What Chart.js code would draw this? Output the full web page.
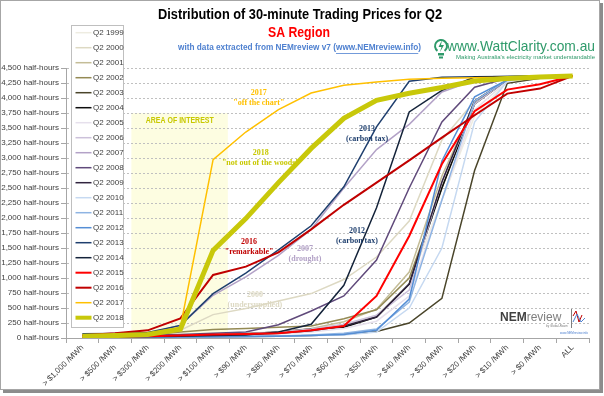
<!DOCTYPE html>
<html>
<head>
<meta charset="utf-8">
<script src="https://cdn.jsdelivr.net/npm/chart.js@4.4.1/dist/chart.umd.min.js"></script>
<style>
  html, body { margin: 0; padding: 0; background: #fff; }
</style>
</head>
<body>
<canvas id="chart" width="604" height="396"></canvas>
<script>
// Distribution of 30-minute trading prices, SA region, Q2 of each year

const priceBands = ['> $1,000 /MWh', '> $500 /MWh', '> $300 /MWh', '> $200 /MWh', '> $100 /MWh',
  '> $90 /MWh', '> $80 /MWh', '> $70 /MWh', '> $60 /MWh', '> $50 /MWh', '> $40 /MWh',
  '> $30 /MWh', '> $20 /MWh', '> $10 /MWh', '> $0 /MWh', 'ALL'];

const yTicks = [0, 250, 500, 750, 1000, 1250, 1500, 1750, 2000, 2250, 2500, 2750,
  3000, 3250, 3500, 3750, 4000, 4250, 4500];

// half-hours above each price band
const q2y1999 = [5, 10, 15, 25, 60, 80, 110, 150, 220, 380, 900, 2300, 3700, 4280, 4355, 4368];
const q2y2000 = [15, 20, 40, 130, 390, 490, 615, 740, 975, 1350, 1950, 3300, 3950, 4300, 4360, 4368];
const q2y2001 = [5, 8, 12, 20, 45, 70, 100, 160, 270, 480, 1100, 2700, 3900, 4300, 4360, 4368];
const q2y2002 = [20, 30, 50, 100, 140, 160, 180, 200, 320, 470, 1000, 2500, 3950, 4300, 4360, 4368];
const q2y2003 = [5, 8, 10, 15, 20, 25, 30, 40, 60, 110, 250, 660, 2790, 4245, 4330, 4368];
const q2y2004 = [10, 15, 20, 30, 50, 70, 100, 150, 180, 350, 900, 2500, 3900, 4300, 4360, 4368];
const q2y2005 = [5, 8, 10, 15, 30, 45, 65, 100, 160, 280, 700, 2300, 3800, 4290, 4360, 4368];
const q2y2006 = [5, 10, 15, 25, 50, 70, 100, 150, 230, 380, 800, 2600, 3900, 4300, 4360, 4368];
const q2y2007 = [40, 50, 70, 212, 712, 1017, 1378, 1810, 2500, 3140, 3560, 4100, 4295, 4340, 4360, 4368];
const q2y2008 = [30, 35, 45, 60, 80, 100, 220, 450, 700, 1300, 2500, 3600, 4180, 4330, 4360, 4368];
const q2y2009 = [10, 15, 20, 30, 45, 60, 80, 120, 200, 350, 900, 2600, 3950, 4300, 4360, 4368];
const q2y2010 = [5, 8, 10, 12, 20, 25, 30, 40, 50, 100, 500, 1500, 3600, 4280, 4355, 4368];
const q2y2011 = [5, 8, 10, 15, 20, 25, 35, 50, 80, 150, 600, 2300, 3950, 4300, 4360, 4368];
const q2y2012 = [5, 8, 10, 15, 20, 25, 30, 40, 60, 130, 650, 2950, 4020, 4300, 4360, 4368];
const q2y2013 = [70, 75, 90, 210, 740, 1080, 1470, 1870, 2520, 3520, 4280, 4345, 4355, 4360, 4365, 4368];
const q2y2014 = [20, 22, 25, 30, 40, 50, 100, 228, 878, 2170, 3767, 4128, 4350, 4360, 4365, 4368];
const q2y2015 = [20, 25, 30, 40, 60, 67, 78, 128, 200, 700, 1700, 2900, 3780, 4140, 4230, 4368];
const q2y2016 = [45, 78, 128, 328, 1050, 1190, 1428, 1810, 2220, 2590, 2960, 3340, 3712, 4073, 4157, 4368];
const q2y2017 = [20, 30, 50, 180, 2973, 3433, 3807, 4083, 4212, 4267, 4312, 4328, 4337, 4345, 4355, 4368];
const q2y2018 = [30, 40, 60, 145, 1460, 1990, 2590, 3160, 3660, 3960, 4080, 4175, 4283, 4323, 4350, 4368];

const seriesNames = ['Q2 1999', 'Q2 2000', 'Q2 2001', 'Q2 2002', 'Q2 2003', 'Q2 2004', 'Q2 2005',
  'Q2 2006', 'Q2 2007', 'Q2 2008', 'Q2 2009', 'Q2 2010', 'Q2 2011', 'Q2 2012', 'Q2 2013',
  'Q2 2014', 'Q2 2015', 'Q2 2016', 'Q2 2017', 'Q2 2018'];

const seriesData = [q2y1999, q2y2000, q2y2001, q2y2002, q2y2003, q2y2004, q2y2005, q2y2006,
  q2y2007, q2y2008, q2y2009, q2y2010, q2y2011, q2y2012, q2y2013, q2y2014, q2y2015, q2y2016,
  q2y2017, q2y2018];

// line colours / widths
const seriesColors = ['#eeece1', '#ddd9c3', '#c4bd97', '#948a54', '#4a452a', '#0d0d0d', '#e6e0ec',
  '#ccc1da', '#b3a2c7', '#604a7b', '#31243f', '#c6d9f1', '#8eb4e3', '#558ed5', '#1f3f6e',
  '#14233a', '#ff0000', '#c00000', '#ffc000', '#c8c80a'];
const seriesWidths = [1.5, 1.5, 1.5, 1.5, 1.5, 1.5, 1.5, 1.5, 1.5, 1.5, 1.5, 1.5, 1.5, 1.5, 1.5,
  1.5, 2, 2, 1.5, 5];

// notes written on the plot: [lines, colour, category index, value]
const notes = [
  [['2017', '"off the chart"'], '#ffc000', 5.4, 4080],
  [['2018', '"not out of the woods"'], '#c8c800', 5.46, 3078],
  [['2013', '(carbon tax)'], '#1f3f6e', 8.71, 3478],
  [['2012', '(carbon tax)'], '#1f3f6e', 8.4, 1778],
  [['2016', '"remarkable"'], '#c00000', 5.1, 1595],
  [['2007', '(drought)'], '#b3a2c7', 6.81, 1478],
  [['2000', '(undersupplied)'], '#ddd9c3', 5.28, 712]
];
const interest = { from: 1.5, to: 4.45, top: 3750, label: 'AREA OF INTEREST', labelAt: 2.98, labelValue: 3628 };

function fitText(ctx, text, cx, cy, width, font, color) {
  ctx.save();
  ctx.font = font;
  ctx.fillStyle = color;
  ctx.textAlign = 'center';
  ctx.textBaseline = 'middle';
  const w = ctx.measureText(text).width;
  ctx.translate(cx, cy);
  ctx.scale(width / w, 1);
  ctx.fillText(text, 0, 0);
  ctx.restore();
}

const decorPlugin = {
  id: 'decor',
  beforeDraw(chart) {
    const ctx = chart.ctx;
    const x = chart.scales.x, y = chart.scales.y;
    ctx.save();
    // frame with shadow
    ctx.fillStyle = '#8c8c8c';
    ctx.fillRect(3, 3, 600, 390);
    ctx.fillStyle = '#ffffff';
    ctx.fillRect(0, 0, 600, 390);
    ctx.strokeStyle = '#a6a6a6';
    ctx.lineWidth = 1;
    ctx.strokeRect(0.5, 0.5, 599, 389);
    // area of interest
    const x0 = x.getPixelForValue(interest.from);
    const x1 = x.getPixelForValue(interest.to);
    const yt = y.getPixelForValue(interest.top);
    ctx.fillStyle = '#fdfde1';
    ctx.fillRect(x0, yt, x1 - x0, y.getPixelForValue(0) - yt);
    ctx.restore();
  },
  afterDatasetsDraw(chart) {
    const ctx = chart.ctx;
    const x = chart.scales.x, y = chart.scales.y;
    ctx.save();
    ctx.textAlign = 'center';
    ctx.textBaseline = 'middle';
    notes.forEach(([lines, color, idx, val]) => {
      const px = x.getPixelForValue(idx);
      const py = y.getPixelForValue(val);
      ctx.fillStyle = color;
      ctx.font = 'bold 8px "Liberation Serif", serif';
      lines.forEach((t, i) => ctx.fillText(t, px, py + i * 9.5));
    });
    fitText(ctx, interest.label, x.getPixelForValue(interest.labelAt), y.getPixelForValue(interest.labelValue),
      68, 'bold 9px "Liberation Sans", sans-serif', '#c8c800');
    ctx.restore();
  },
  afterDraw(chart) {
    const ctx = chart.ctx;
    ctx.save();
    // titles
    fitText(ctx, 'Distribution of 30-minute Trading Prices for Q2', 300, 15, 284,
      'bold 15px "Liberation Sans", sans-serif', '#000000');
    fitText(ctx, 'SA Region', 299, 33, 62, 'bold 15px "Liberation Sans", sans-serif', '#ff0000');
    const pre = 'with data extracted from NEMreview v7 ';
    const link = '(www.NEMreview.info)';
    ctx.font = 'bold 9px "Liberation Sans", sans-serif';
    const wPre = ctx.measureText(pre).width, wLink = ctx.measureText(link).width;
    const k = 243 / (wPre + wLink);
    fitText(ctx, pre + link, 299.5, 48, 243, 'bold 9px "Liberation Sans", sans-serif', '#4f81d0');
    const lx = 299.5 - 243 / 2 + wPre * k + k * ctx.measureText('(').width;
    ctx.strokeStyle = '#4f81d0';
    ctx.lineWidth = 0.8;
    ctx.beginPath();
    ctx.moveTo(lx, 53.5);
    ctx.lineTo(299.5 + 243 / 2 - k * ctx.measureText(')').width, 53.5);
    ctx.stroke();

    // WattClarity logo
    ctx.strokeStyle = '#2e9a6a';
    ctx.lineWidth = 2;
    ctx.beginPath();
    ctx.arc(441, 46, 6, Math.PI * 0.7, Math.PI * 2.3);
    ctx.stroke();
    ctx.fillStyle = '#2e9a6a';
    ctx.fillRect(438, 53, 6, 2.5);
    ctx.fillRect(439, 56.5, 4, 2);
    ctx.beginPath();
    ctx.moveTo(442, 40); ctx.lineTo(438.5, 47); ctx.lineTo(441.5, 47); ctx.lineTo(440, 52);
    ctx.lineTo(444, 45); ctx.lineTo(441, 45); ctx.closePath();
    ctx.fill();
    fitText(ctx, 'www.WattClarity.com.au', 521, 47, 148, '15px "Liberation Sans", sans-serif', '#2e9a6a');
    fitText(ctx, "Making Australia's electricity market understandable", 525.5, 57.5, 139,
      '6px "Liberation Sans", sans-serif', '#2e9a6a');

    // NEMreview logo
    ctx.textBaseline = 'middle';
    ctx.textAlign = 'left';
    ctx.font = 'bold 12px "Liberation Sans", sans-serif';
    ctx.fillStyle = '#404040';
    ctx.fillText('NEM', 500, 318);
    const wn = ctx.measureText('NEM').width;
    ctx.font = '12px "Liberation Sans", sans-serif';
    ctx.fillStyle = '#7f7f7f';
    ctx.fillText('review', 500 + wn, 318);
    ctx.font = '3px "Liberation Sans", sans-serif';
    ctx.fillText('by Global-Roam', 546, 326);
    ctx.fillStyle = '#4f81d0';
    ctx.fillText('www.NEMreview.info', 560, 333);
    ctx.strokeStyle = '#7f7f7f';
    ctx.lineWidth = 1;
    ctx.beginPath(); ctx.moveTo(571.5, 309); ctx.lineTo(571.5, 328); ctx.stroke();
    ctx.strokeStyle = '#c00000';
    ctx.beginPath(); ctx.moveTo(573, 316); ctx.lineTo(576, 311); ctx.lineTo(579, 322); ctx.lineTo(582, 315); ctx.stroke();
    ctx.strokeStyle = '#4f81d0';
    ctx.beginPath(); ctx.moveTo(573, 322); ctx.lineTo(577, 314); ctx.lineTo(581, 322); ctx.lineTo(585, 318); ctx.stroke();

    // legend
    const top = 25, left = 71.5;
    ctx.fillStyle = '#ffffff';
    ctx.fillRect(left, top, 52, 302);
    ctx.strokeStyle = '#bfbfbf';
    ctx.lineWidth = 1;
    ctx.strokeRect(left, top + 0.5, 52, 302);
    ctx.font = '8px "Liberation Sans", sans-serif';
    chart.data.datasets.forEach((ds, i) => {
      const yy = 32.7 + i * 15;
      ctx.strokeStyle = ds.borderColor;
      ctx.lineWidth = Math.min(ds.borderWidth, 4);
      ctx.beginPath();
      ctx.moveTo(75.5, yy);
      ctx.lineTo(91.5, yy);
      ctx.stroke();
      ctx.fillStyle = '#404040';
      ctx.fillText(ds.label, 93, yy);
    });
    ctx.restore();
  }
};

const datasets = seriesNames.map((name, i) => ({
  label: name,
  data: seriesData[i],
  borderColor: seriesColors[i],
  backgroundColor: seriesColors[i],
  borderWidth: seriesWidths[i],
  pointRadius: 0,
  tension: 0,
  fill: false,
  order: seriesNames.length - i
}));

new Chart(document.getElementById('chart'), {
  type: 'line',
  data: { labels: priceBands, datasets: datasets },
  options: {
    responsive: false,
    animation: false,
    events: [],
    layout: { padding: { left: 0, top: 68, right: 15, bottom: 8 } },
    plugins: { legend: { display: false }, tooltip: { enabled: false } },
    scales: {
      x: {
        type: 'category',
        offset: true,
        afterFit: s => { s.height = 50; },
        grid: { display: true, offset: true, drawOnChartArea: false, drawTicks: true, tickLength: 5, color: '#a6a6a6' },
        border: { display: true, color: '#a6a6a6', width: 1 },
        ticks: {
          autoSkip: false, minRotation: 45, maxRotation: 45, padding: 0,
          color: '#404040', font: { family: '"Liberation Sans", sans-serif', size: 8 }
        }
      },
      y: {
        min: 0, max: 4500,
        afterFit: s => { s.width = 66; },
        afterBuildTicks: s => { s.ticks = yTicks.map(v => ({ value: v })); },
        grid: { color: '#c0c0c0', tickLength: 5, tickColor: '#a6a6a6' },
        border: { display: true, color: '#a6a6a6', width: 1, dash: [2, 2] },
        ticks: {
          padding: 2, color: '#404040',
          font: { family: '"Liberation Sans", sans-serif', size: 8 },
          callback: v => v.toLocaleString('en-US') + ' half-hours'
        }
      }
    }
  },
  plugins: [decorPlugin]
});
</script>
</body>
</html>
